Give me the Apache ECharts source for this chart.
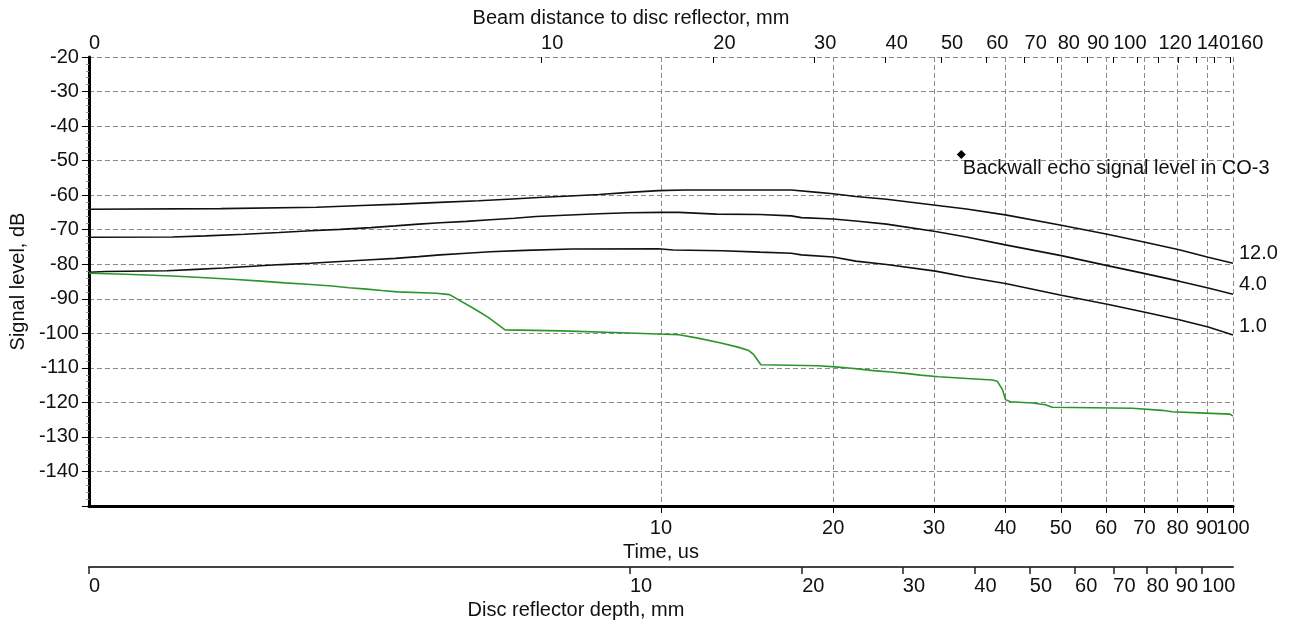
<!DOCTYPE html>
<html><head><meta charset="utf-8">
<script src="https://cdn.jsdelivr.net/npm/echarts@6/dist/echarts.min.js"></script>
<style>html,body{margin:0;padding:0;background:#fff}#c{width:1289px;height:628px}</style>
</head><body><div id="c"></div>
<script>
// ---- tick values (real units) ----
const timeTicks = [10, 20, 30, 40, 50, 60, 70, 80, 90, 100];            // us
const beamTicks = [10, 20, 30, 40, 50, 60, 70, 80, 90, 100, 110, 120, 130, 140, 150, 160]; // mm
const beamLabels = [10, 20, 30, 40, 50, 60, 70, 80, 90, 100, 120, 140, 160];
const depthTicks = [10, 20, 30, 40, 50, 60, 70, 80, 90, 100];            // mm

// axis ranges
const timeRange = [1, 100];          // us (left edge labelled 0)
const beamPerUs = 1.62;              // beam distance mm per us
const depthPerUs = 1.133;            // depth mm per us
const dbRange = [-150, -20];

// ---- series: [time us, level dB] ----
const curve12 = [[1.0,-64.1],[1.7,-63.9],[2.5,-63.5],[3.0,-63.0],[3.5,-62.6],[4.1,-62.1],[4.8,-61.6],[5.5,-61.1],[6.1,-60.7],[6.8,-60.3],[7.8,-59.8],[8.8,-59.2],[9.9,-58.7],[11,-58.5],[14,-58.5],[16.9,-58.5],[18.8,-59.2],[20,-59.6],[21.9,-60.4],[24.8,-61.2],[30.2,-62.9],[34.2,-64.0],[40,-65.7],[50.1,-68.7],[60.3,-71.3],[70.5,-73.7],[80.5,-75.8],[90.5,-78.0],[100,-79.7]];
const curve4 = [[1.0,-72.2],[1.4,-72.1],[1.6,-71.8],[1.87,-71.3],[2.15,-70.8],[2.44,-70.3],[2.75,-69.9],[3.11,-69.4],[3.43,-68.9],[3.77,-68.4],[4.11,-68.0],[4.57,-67.6],[5.03,-67.1],[5.54,-66.7],[6.05,-66.2],[6.77,-65.8],[7.79,-65.4],[8.8,-65.1],[10,-65.0],[10.75,-65.0],[12.5,-65.5],[14.9,-65.6],[16.9,-66.0],[17.6,-66.5],[20,-66.9],[21.9,-67.5],[24.8,-68.4],[30.2,-70.5],[34.2,-72.1],[40,-74.4],[50.1,-77.5],[60.3,-80.4],[70.5,-82.8],[80.5,-84.9],[90.5,-86.9],[100,-88.7]];
const curve1 = [[1.0,-82.3],[1.07,-82.1],[1.37,-81.9],[1.54,-81.5],[1.72,-81.1],[1.93,-80.6],[2.17,-80.1],[2.44,-79.7],[2.75,-79.2],[3.11,-78.7],[3.43,-78.3],[3.77,-77.8],[4.11,-77.3],[4.57,-76.8],[5.03,-76.4],[5.79,-76.0],[7,-75.6],[9.9,-75.5],[10.5,-75.9],[12.8,-76.1],[14.9,-76.5],[16.9,-76.8],[17.6,-77.3],[20,-77.9],[21.9,-79.1],[24.8,-80.1],[30.2,-82.0],[34.2,-83.7],[40,-85.6],[50.1,-89.0],[60.3,-91.6],[70.5,-94.0],[80.5,-96.1],[90.5,-98.2],[100,-100.5]];
const measuredLevel = [[1.0,-82.6],[1.16,-82.9],[1.4,-83.4],[1.6,-83.9],[1.81,-84.4],[2.0,-84.9],[2.2,-85.4],[2.41,-85.8],[2.66,-86.3],[2.85,-86.8],[3.06,-87.2],[3.25,-87.6],[3.46,-88.0],[4.05,-88.4],[4.27,-88.8],[4.74,-93.1],[4.99,-95.4],[5.34,-99.0],[6.72,-99.3],[6.75,-99.6],[8.79,-99.9],[10.75,-100.4],[11.6,-101.4],[12.73,-102.8],[13.63,-104.0],[14.24,-105.0],[14.53,-106.2],[14.95,-109.1],[18.87,-109.4],[20.4,-109.8],[21.5,-110.1],[22.07,-110.3],[23.53,-110.8],[25.2,-111.2],[26.77,-111.6],[28.43,-112.1],[30.57,-112.6],[34.34,-113.1],[37.96,-113.5],[38.73,-113.9],[39.54,-116.3],[40.02,-119.2],[40.83,-119.8],[44.6,-120.2],[46.98,-120.7],[48.32,-121.4],[66.64,-121.7],[75.17,-122.3],[78.25,-122.7],[89.36,-123.1],[98.8,-123.4],[100,-124.0]];
const backwallEcho = [[33.5, -48.2]];

const curveNames = ['12.0', '4.0', '1.0'];
const backwallText = 'Backwall echo signal level in CO-3';

// ---- build ----
const L = Math.log10;
const toLog = arr => arr.map(p => [L(p[0]), p[1]]);
const FONT = '"Liberation Sans", Arial, sans-serif';
const TXT = '#111';

const tMin = L(timeRange[0]), tMax = L(timeRange[1]);
const bMin = L(timeRange[0] * beamPerUs), bMax = L(timeRange[1] * beamPerUs);
const dMin = L(timeRange[0] * depthPerUs), dMax = L(timeRange[1] * depthPerUs);

function fmt(min) {
  return v => (Math.abs(v - min) < 1e-9 ? '0' : String(Math.round(Math.pow(10, v))));
}
const gridLine = { color: '#8a8a8a', width: 1, type: [5, 3] };
const timeLabelVals = timeTicks.map(L);

const chart = echarts.init(document.getElementById('c'), null, { renderer: 'canvas' });
chart.setOption({
  animation: false,
  textStyle: { fontFamily: FONT, color: TXT },
  grid: { left: 87, right: 56, top: 57, bottom: 122, containLabel: false },
  xAxis: [
    { // time (bottom)
      type: 'value', position: 'bottom', min: tMin, max: tMax,
      name: 'Time, us', nameLocation: 'middle', nameGap: 35,
      nameTextStyle: { fontSize: 20, color: TXT, fontFamily: FONT },
      axisLine: { show: true, lineStyle: { color: '#000', width: 3 } },
      axisTick: { show: true, inside: false, length: 7, lineStyle: { color: '#000', width: 1 }, customValues: timeLabelVals },
      axisLabel: { show: true, fontSize: 20, color: TXT, margin: 12, customValues: timeLabelVals.slice(0, -1), formatter: fmt(tMin), hideOverlap: false },
      splitLine: { show: true, lineStyle: gridLine },
      minorTick: { show: false }
    },
    { // beam distance (top)
      type: 'value', position: 'top', min: bMin, max: bMax,
      name: 'Beam distance to disc reflector, mm', nameLocation: 'middle', nameGap: 25,
      nameTextStyle: { fontSize: 20, color: TXT, fontFamily: FONT, padding: [0, 60, 0, 0] },
      axisLine: { show: false },
      axisTick: { show: true, inside: true, length: 6, lineStyle: { color: '#000', width: 1 }, customValues: [bMin].concat(beamTicks.map(L)) },
      axisLabel: { show: true, fontSize: 20, color: TXT, margin: 4, align: 'left', customValues: [bMin].concat(beamLabels.map(L)), formatter: fmt(bMin), hideOverlap: false, showMinLabel: true, showMaxLabel: true },
      splitLine: { show: false }
    },
    { // disc depth (second bottom)
      type: 'value', position: 'bottom', offset: 61, min: dMin, max: dMax,
      name: 'Disc reflector depth, mm', nameLocation: 'middle', nameGap: 32,
      nameTextStyle: { fontSize: 20, color: TXT, fontFamily: FONT, padding: [0, 170, 0, 0] },
      axisLine: { show: true, lineStyle: { color: '#444', width: 2 } },
      axisTick: { show: true, inside: false, length: 7, lineStyle: { color: '#222', width: 1.5 }, customValues: [dMin].concat(depthTicks.map(L)) },
      axisLabel: { show: true, fontSize: 20, color: TXT, margin: 9, align: 'left', customValues: [dMin].concat(depthTicks.map(L)), formatter: fmt(dMin), hideOverlap: false, showMinLabel: true, showMaxLabel: true },
      splitLine: { show: false }
    },
    { // time axis: last label only (kept separate so it is not culled against "90")
      type: 'value', position: 'bottom', min: tMin, max: tMax,
      axisLine: { show: false }, axisTick: { show: false }, splitLine: { show: false },
      axisLabel: { show: true, fontSize: 20, color: TXT, margin: 12, customValues: timeLabelVals.slice(-1), formatter: fmt(tMin), hideOverlap: false, showMaxLabel: true }
    }
  ],
  yAxis: [
    {
      type: 'value', position: 'left', min: dbRange[0], max: dbRange[1], interval: 10,
      name: 'Signal level, dB', nameLocation: 'middle', nameGap: 54,
      nameTextStyle: { fontSize: 20, color: TXT, fontFamily: FONT },
      axisLine: { show: true, lineStyle: { color: '#000', width: 3 } },
      axisTick: { show: true, inside: false, length: 7, lineStyle: { color: '#000', width: 1 } },
      minorTick: { show: true, splitNumber: 5, length: 3, lineStyle: { color: '#999', width: 1 } },
      axisLabel: { show: true, fontSize: 20, color: TXT, margin: 10, showMinLabel: false, showMaxLabel: true },
      splitLine: { show: true, lineStyle: gridLine }
    },
    {
      type: 'value', position: 'right', min: dbRange[0], max: dbRange[1], interval: 10,
      axisLine: { show: true, lineStyle: { color: '#000', width: 1, type: [5, 3] } },
      axisTick: { show: false }, axisLabel: { show: false }, splitLine: { show: false }
    }
  ],
  series: [
    { type: 'line', name: curveNames[0], data: toLog(curve12), showSymbol: false, symbol: 'none',
      lineStyle: { color: '#111', width: 1.6 }, z: 3,
      endLabel: { show: true, formatter: curveNames[0], fontSize: 20, color: TXT, distance: 6, offset: [0, -10], fontFamily: FONT } },
    { type: 'line', name: curveNames[1], data: toLog(curve4), showSymbol: false, symbol: 'none',
      lineStyle: { color: '#111', width: 1.6 }, z: 3,
      endLabel: { show: true, formatter: curveNames[1], fontSize: 20, color: TXT, distance: 6, offset: [0, -10], fontFamily: FONT } },
    { type: 'line', name: curveNames[2], data: toLog(curve1), showSymbol: false, symbol: 'none',
      lineStyle: { color: '#111', width: 1.6 }, z: 3,
      endLabel: { show: true, formatter: curveNames[2], fontSize: 20, color: TXT, distance: 6, offset: [0, -9], fontFamily: FONT } },
    { type: 'line', name: 'measured', data: toLog(measuredLevel), showSymbol: false, symbol: 'none',
      lineStyle: { color: '#2a962a', width: 1.6 }, z: 3 },
    { type: 'scatter', name: 'backwall', data: toLog(backwallEcho), symbol: 'diamond', symbolSize: 9,
      itemStyle: { color: '#000', opacity: 1 }, z: 4,
      label: { show: true, position: 'right', distance: 0, offset: [-3, 14], formatter: backwallText, fontSize: 20, color: TXT, opacity: 1, textBorderWidth: 0, fontFamily: FONT } }
  ]
});
</script></body></html>
